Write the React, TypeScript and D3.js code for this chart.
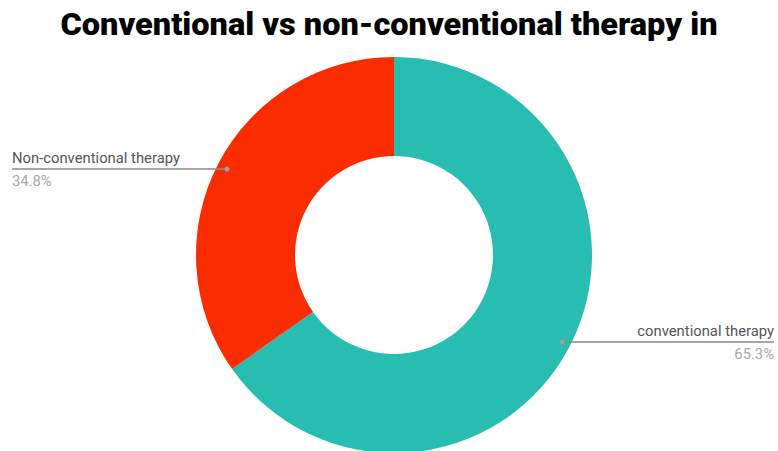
import React from "react";
import * as d3 from "d3";

const title = "Conventional vs non-conventional therapy in";
const categories = ["conventional therapy", "Non-conventional therapy"];
const values = [65.3, 34.8];
const valueLabels = ["65.3%", "34.8%"];
const colors = ["#27bdb1", "#fb2c00"];

const W = 778;
const H = 451;
const cx = 394;
const cy = 255;
const R = 198;
const r = 99;

export default function App() {
  const pie = d3.pie<number>().sort(null).value((d) => d)(values);
  const arc = d3.arc<d3.PieArcDatum<number>>().innerRadius(r).outerRadius(R);

  const labelCfg = [
    { anchor: "end", x: 774, lineY: 342, dotX: 562 },
    { anchor: "start", x: 12, lineY: 169, dotX: 227 },
  ];

  return (
    <svg
      width={W}
      height={H}
      style={{ position: "absolute", left: 0, top: 0, background: "#fff" }}
    >
      <text
        x={W / 2}
        y={35}
        textAnchor="middle"
        fontFamily="Roboto, 'Liberation Sans', Arial, sans-serif"
        fontWeight={900}
        fontSize={32}
        textLength={657}
        lengthAdjust="spacingAndGlyphs"
        fill="#000"
      >
        {title}
      </text>
      <g transform={`translate(${cx},${cy})`}>
        {pie.map((p, i) => (
          <path key={i} d={arc(p) || ""} fill={colors[i]} />
        ))}
      </g>
      {pie.map((p, i) => {
        const c = labelCfg[i];
        return (
          <g key={"l" + i}>
            <line x1={c.dotX} x2={c.x} y1={c.lineY} y2={c.lineY} stroke="#8a8a8a" strokeWidth={1.5} />
            <circle cx={c.dotX} cy={c.lineY} r={2.5} fill="#a0a0a0" />
            <text
              x={c.x}
              y={c.lineY - 6}
              textAnchor={c.anchor}
              fontFamily="Roboto, sans-serif"
              fontSize={14.8}
              fill="#555"
            >
              {categories[i]}
            </text>
            <text
              x={c.x}
              y={c.lineY + 17}
              textAnchor={c.anchor}
              fontFamily="Roboto, sans-serif"
              fontSize={14.8}
              fill="#a8a8a8"
            >
              {valueLabels[i]}
            </text>
          </g>
        );
      })}
    </svg>
  );
}
